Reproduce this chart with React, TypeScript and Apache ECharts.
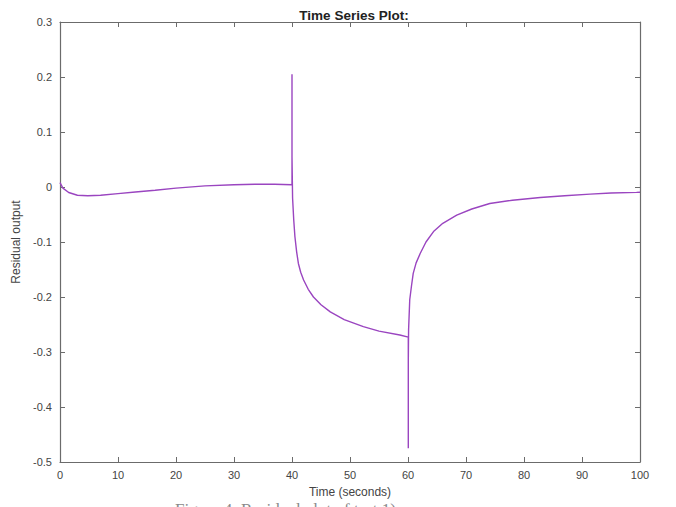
import React, { useEffect, useRef } from "react";
import * as echarts from "echarts";

// Time (s) and residual values
const timeValues = [
  0, 0.5, 1.5, 3, 4.8, 7, 10, 13, 16.4, 20, 25, 30, 33.6, 37, 40,
  40, 40, 40.1, 40.3, 40.5, 40.8, 41.1, 41.5, 42, 42.8, 43.7, 45, 46.6, 49, 52.3, 55, 58.6, 60.05,
  60.05, 60.05, 60.1, 60.3, 60.6, 60.9, 61.4, 62.1, 63.1, 64.4, 66, 68.4, 71, 74.1, 78, 82.8, 87, 91.4, 95, 99.4, 100,
];
const residualValues = [
  0.008, -0.002, -0.01, -0.015, -0.016, -0.015, -0.012, -0.009, -0.006, -0.002, 0.002, 0.004, 0.005, 0.005, 0.004,
  0.205, 0.055, -0.02, -0.06, -0.09, -0.118, -0.139, -0.155, -0.169, -0.186, -0.2, -0.214, -0.227, -0.241, -0.254, -0.262, -0.269, -0.273,
  -0.475, -0.32, -0.26, -0.205, -0.18, -0.157, -0.138, -0.121, -0.1, -0.081, -0.066, -0.051, -0.04, -0.03, -0.024, -0.019, -0.016, -0.013, -0.011, -0.0097, -0.0095,
];
const xTicks = [0, 10, 20, 30, 40, 50, 60, 70, 80, 90, 100];
const yTicks = [-0.5, -0.4, -0.3, -0.2, -0.1, 0, 0.1, 0.2, 0.3];

const titleText = "Time Series Plot:";
const xName = "Time (seconds)";
const yName = "Residual output";
const captionText = "Figure 4: Residual plot of test 1)";

export default function App() {
  const ref = useRef<HTMLDivElement>(null);
  useEffect(() => {
    if (!ref.current) return;
    const chart = echarts.init(ref.current, null, { renderer: "svg" });
    const font = "'Liberation Sans', Arial, sans-serif";
    const axisColor = "#6b6b6b";
    const labelColor = "#444";
    const data = timeValues.map((t, i) => [t, residualValues[i]]);
    const fmtY = (v: number) => (Math.abs(v) < 1e-9 ? "0" : v.toFixed(1));
    const xMin = xTicks[0];
    const xMax = xTicks[xTicks.length - 1];
    const yMin = yTicks[0];
    const yMax = yTicks[yTicks.length - 1];
    const baseX = {
      type: "value",
      min: xMin,
      max: xMax,
      interval: 10,
      axisLine: { show: true, onZero: false, lineStyle: { color: axisColor, width: 1.2 } },
      axisTick: { show: true, inside: true, length: 5, lineStyle: { color: axisColor } },
      splitLine: { show: false },
    };
    const baseY = {
      type: "value",
      min: yMin,
      max: yMax,
      interval: 0.1,
      axisLine: { show: true, onZero: false, lineStyle: { color: axisColor, width: 1.2 } },
      axisTick: { show: true, inside: true, length: 5, lineStyle: { color: axisColor } },
      splitLine: { show: false },
    };
    chart.setOption({
      animation: false,
      backgroundColor: "#ffffff",
      title: {
        text: titleText,
        left: 349,
        top: 3,
        textAlign: "center",
        textStyle: { fontFamily: font, fontSize: 13.5, fontWeight: "bold", color: "#222" },
      },
      grid: { left: 60, right: 36, top: 22, bottom: 45 },
      xAxis: [
        {
          ...baseX,
          position: "bottom",
          name: xName,
          nameLocation: "middle",
          nameGap: 24,
          nameTextStyle: { fontFamily: font, fontSize: 12, color: labelColor },
          axisLabel: { fontFamily: font, fontSize: 11, color: labelColor, margin: 7 },
        },
        { ...baseX, position: "top", axisLabel: { show: false } },
      ],
      yAxis: [
        {
          ...baseY,
          position: "left",
          name: yName,
          nameLocation: "middle",
          nameGap: 33,
          nameTextStyle: { fontFamily: font, fontSize: 12, color: labelColor },
          axisLabel: { fontFamily: font, fontSize: 11, color: labelColor, margin: 8, formatter: fmtY },
        },
        { ...baseY, position: "right", axisLabel: { show: false } },
      ],
      series: [
        {
          type: "line",
          data,
          xAxisIndex: 0,
          yAxisIndex: 0,
          showSymbol: false,
          smooth: false,
          lineStyle: { color: "#9a45c0", width: 1.4 },
        },
      ],
      graphic: [
        {
          type: "text",
          left: 175,
          top: 501,
          style: { text: captionText, font: "17px serif", fill: "#8a8a8a" },
        },
      ],
    });
    return () => chart.dispose();
  }, []);
  return (
    <div
      ref={ref}
      style={{ position: "fixed", left: 0, top: 0, width: 676, height: 507, background: "#fff" }}
    />
  );
}
